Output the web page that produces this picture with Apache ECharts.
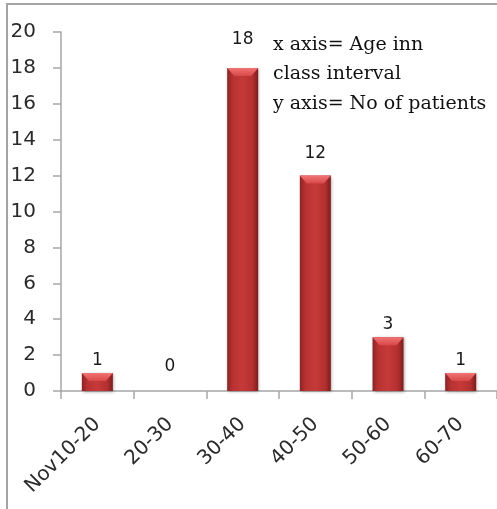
<!DOCTYPE html>
<html>
<head>
<meta charset="utf-8">
<script src="https://cdn.jsdelivr.net/npm/echarts@6/dist/echarts.min.js"></script>
<style>
  html, body { margin: 0; padding: 0; background: #fff; overflow: hidden; }
  #chart { width: 497px; height: 509px; }
</style>
</head>
<body>
<div id="chart"></div>
<script>
// Age groups (class intervals) and number of patients in each
const ageGroups = ['Nov10-20', '20-30', '30-40', '40-50', '50-60', '60-70'];
const patients = [1, 0, 18, 12, 3, 1];
const yTicks = { min: 0, max: 20, step: 2 };
const noteLines = ['x axis= Age inn', 'class interval', 'y axis= No of patients'];

// gap between each bar top and its value label
const labelGap = [4, 16, 20, 14, 4, 4];

const axisGrey = '#a6a6a6';
const frameGrey = '#a3a3a3';
const sansFont = 'DejaVu Sans';

const barFill = new echarts.graphic.LinearGradient(0, 0, 1, 0, [
  { offset: 0, color: '#8f2222' },
  { offset: 0.18, color: '#b83232' },
  { offset: 0.5, color: '#c63939' },
  { offset: 0.82, color: '#b33030' },
  { offset: 1, color: '#7f1c1c' }
]);
const bevelFill = new echarts.graphic.LinearGradient(0, 0, 0, 1, [
  { offset: 0, color: '#f27474' },
  { offset: 1, color: '#d84848' }
]);

const chart = echarts.init(document.getElementById('chart'), null, { renderer: 'canvas' });

chart.setOption({
  animation: false,
  backgroundColor: '#ffffff',
  grid: { left: 61, top: 32, bottom: 118, right: 0, outerBoundsMode: 'none' },
  xAxis: {
    type: 'category',
    data: ageGroups,
    axisLine: { lineStyle: { color: axisGrey, width: 1.5 } },
    axisTick: { show: true, length: 8, lineStyle: { color: axisGrey, width: 1.5 } },
    axisLabel: {
      rotate: 45,
      interval: 0,
      margin: 30,
      fontFamily: sansFont,
      fontSize: 20,
      color: '#2b2b2b'
    }
  },
  yAxis: {
    type: 'value',
    min: yTicks.min,
    max: yTicks.max,
    interval: yTicks.step,
    splitLine: { show: false },
    axisLine: { show: true, lineStyle: { color: axisGrey, width: 1.5 } },
    axisTick: { show: true, length: 8, lineStyle: { color: axisGrey, width: 1.5 } },
    axisLabel: {
      margin: 25,
      fontFamily: sansFont,
      fontSize: 20,
      color: '#2b2b2b'
    }
  },
  series: [
    {
      type: 'bar',
      barWidth: 31,
      data: patients.map((v, i) => ({ value: v, label: { distance: labelGap[i] } })),
      itemStyle: {
        color: barFill,
        shadowBlur: 3,
        shadowColor: 'rgba(0,0,0,0.35)',
        shadowOffsetX: 1,
        shadowOffsetY: 1
      },
      label: {
        show: true,
        position: 'top',
        fontFamily: sansFont,
        fontSize: 17,
        color: '#1a1a1a'
      },
      z: 2
    },
    {
      // lighter bevelled cap on top of each bar
      type: 'pictorialBar',
      data: patients.map(v => (v > 0 ? v : '-')),
      symbol: 'path://M0,0 L31,0 L24,8 L7,8 Z',
      symbolSize: [31, 8],
      symbolPosition: 'end',
      symbolOffset: [0, 0],
      barGap: '-100%',
      itemStyle: { color: bevelFill },
      silent: true,
      z: 3
    }
  ],
  graphic: [
    {
      // chart frame: left and top edges
      type: 'line',
      shape: { x1: 7, y1: 3, x2: 7, y2: 509 },
      style: { stroke: frameGrey, lineWidth: 2 },
      silent: true
    },
    {
      type: 'line',
      shape: { x1: 6, y1: 4, x2: 497, y2: 4 },
      style: { stroke: frameGrey, lineWidth: 2 },
      silent: true
    },
    {
      type: 'text',
      left: 273,
      top: 30,
      style: {
        text: noteLines.join('\n'),
        font: '19px "DejaVu Serif"',
        fill: '#111111',
        lineHeight: 29.5
      }
    }
  ]
});
</script>
</body>
</html>
